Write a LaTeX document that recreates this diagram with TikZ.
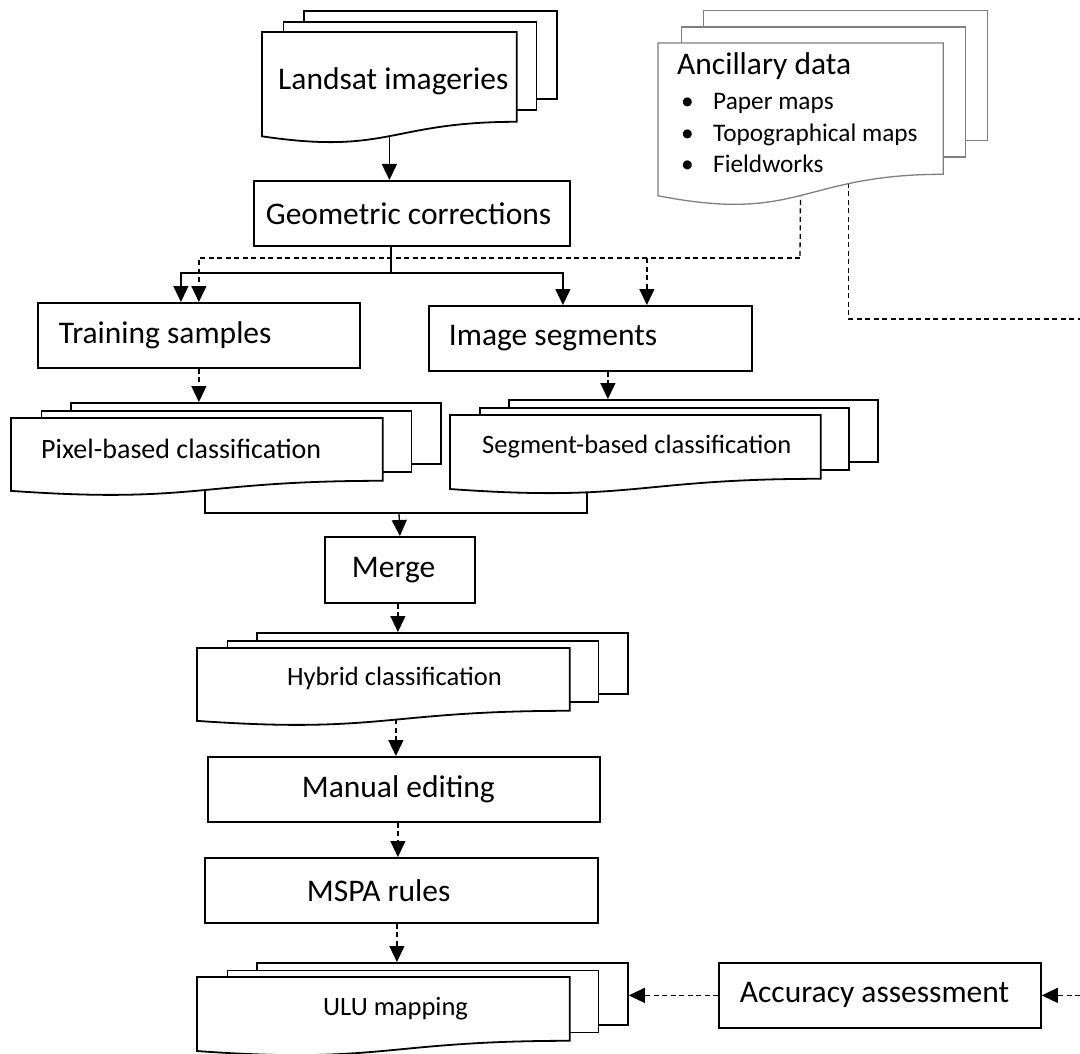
\documentclass[tikz,border=0pt]{standalone}
\usepackage{fontspec}
\setmainfont{Carlito}
\usetikzlibrary{arrows.meta, backgrounds, calc}
\definecolor{ancgray}{HTML}{7F7F7F}
\newcommand{\bigfont}{\fontsize{31.5pt}{38pt}\selectfont}
\newcommand{\docfont}{\fontsize{26.5pt}{32pt}\selectfont}
% stack of three pages: name, x, y (front top left), width, height, dx, dy, style
\newcommand{\docstack}[8]{%
  \node[#8, minimum width=#4pt, minimum height=#5pt] (#1-b) at ({#2+2*#6},{#3-2*#7}) {};
  \node[#8, minimum width=#4pt, minimum height=#5pt] (#1-m) at ({#2+#6},{#3-#7}) {};
  \node[#8, draw=none, fill=none, minimum width=#4pt, minimum height=#5pt] (#1) at (#2,#3) {};
  \draw[#8] (#1.north west) -- (#1.north east) -- (#1.south east)
    .. controls (#1.south) and ($(#1.south)+(0,0.38*#5)$) .. ($(#1.south west)+(0,0.165*#5)$) -- cycle;
}
\tikzset{
  box/.style 2 args={rectangle, draw, line width=1.8pt, fill=white, anchor=north west, minimum height=65pt, text width=#1, inner xsep=#2, inner ysep=0pt, align=flush left, font=\bigfont},
  page/.style={rectangle, draw, line width=1.8pt, fill=white, anchor=north west, inner sep=0pt},
  oldpage/.style={page, draw=ancgray, line width=1.3pt},
  arr/.style={-{Triangle[length=16pt, width=15pt]}, line width=1.3pt},
  darr/.style={arr, dash pattern=on 5pt off 3.5pt},
  link/.style={line width=1.3pt},
  dlink/.style={link, dash pattern=on 5pt off 3.5pt},
}
\begin{document}
\begin{tikzpicture}[x=1pt, y=-1pt,
  doctext/.style={anchor=base west, inner sep=0pt, font=\docfont}]
\useasboundingbox (0,0) rectangle (1080,1054);
% inputs
\docstack{land}{262}{32}{253}{88}{20.5}{11}{page}
\node[doctext, font=\bigfont] (landtxt) at (278,90) {Landsat imageries};
\docstack{anc}{658}{43}{284}{130}{22.5}{16.5}{oldpage}
\node[doctext, font=\bigfont] (anctxt) at (677,75) {Ancillary data};
\foreach \txt [count=\i] in {Paper maps, Topographical maps, Fieldworks}
  \node[doctext, font=\fontsize{25.3pt}{32pt}\selectfont] (anc\i) at (681,{110+31.5*(\i-1)}) {\makebox[32pt][l]{•}\txt};
% processing steps
\node[box={292pt}{12pt}] (geo) at (253,180) {Geometric corrections};
\node[box={280pt}{21pt}] (train) at (37,302) {Training samples};
\node[box={283pt}{20pt}] (img) at (428,305) {Image segments};
\docstack{pix}{11}{418}{370}{61}{29.5}{8}{page}
\node[doctext, font=\fontsize{28pt}{34pt}\selectfont] (pixtxt) at (41,458) {Pixel-based classification};
\docstack{seg}{450}{415}{369}{62}{29}{8}{page}
\node[doctext] (segtxt) at (482,453) {Segment-based classification};
\node[box={96pt}{27pt}, minimum height=66pt] (merge) at (324,536) {Merge};
\docstack{hyb}{197}{648}{371}{61}{29.5}{8}{page}
\node[doctext] (hybtxt) at (287,685) {Hybrid classification};
\node[box={204pt}{94pt}] (manual) at (207,756) {Manual editing};
\node[box={189pt}{102pt}] (mspa) at (204,857) {MSPA rules};
\docstack{ulu}{197}{977}{371}{62}{29.5}{7.5}{page}
\node[doctext] (ulutxt) at (323,1015) {ULU mapping};
\node[box={280pt}{21pt}] (acc) at (718,962) {Accuracy assessment};
% connectors
\coordinate (fork) at (391,273);
\coordinate (ancsplit) at (800,258);
\coordinate (edgetop) at (1080,319);
\coordinate (edgebot) at (1080,994);
\coordinate (join) at (399,513);
\begin{scope}[on background layer]
\draw[arr] (land.south) -- (land.south |- geo.north);
\draw[link] (geo.south -| fork) -- (fork);
\draw[arr] (fork) -| ([xshift=-18pt]train.north);
\draw[arr] (fork) -| ([xshift=-27.5pt]img.north);
\draw[dlink] (anc.south) -- (ancsplit);
\draw[darr] (ancsplit) -| (train.north);
\draw[darr] ([xshift=56.5pt]img.north |- ancsplit) -- ([xshift=56.5pt]img.north);
\draw[dlink] ([xshift=48pt]anc.south) |- (edgetop);
\draw[darr] (train.south) -- (train.south |- pix-b.north);
\draw[darr] ([xshift=17.5pt]img.south) -- ([xshift=17.5pt]img.south |- seg-b.north);
\draw[link] ([xshift=8pt]pix.south) |- (join) -| ([xshift=-48.5pt]seg.south);
\draw[arr] (join) -- (merge.north);
\draw[darr] ([xshift=-2pt]merge.south) -- ([xshift=-2pt]merge.south |- hyb-b.north);
\draw[darr] ([xshift=12.5pt]hyb.south) -- ([xshift=12.5pt]hyb.south |- manual.north);
\draw[darr] ([xshift=-6pt]manual.south) -- ([xshift=-6pt]manual.south |- mspa.north);
\draw[darr] ([xshift=-4.5pt]mspa.south) -- ([xshift=-4.5pt]mspa.south |- ulu-b.north);
\draw[darr] (acc.west) -- (acc.west -| ulu-b.east);
\draw[darr] (edgebot |- acc.east) -- (acc.east);
\end{scope}
\end{tikzpicture}
\end{document}
